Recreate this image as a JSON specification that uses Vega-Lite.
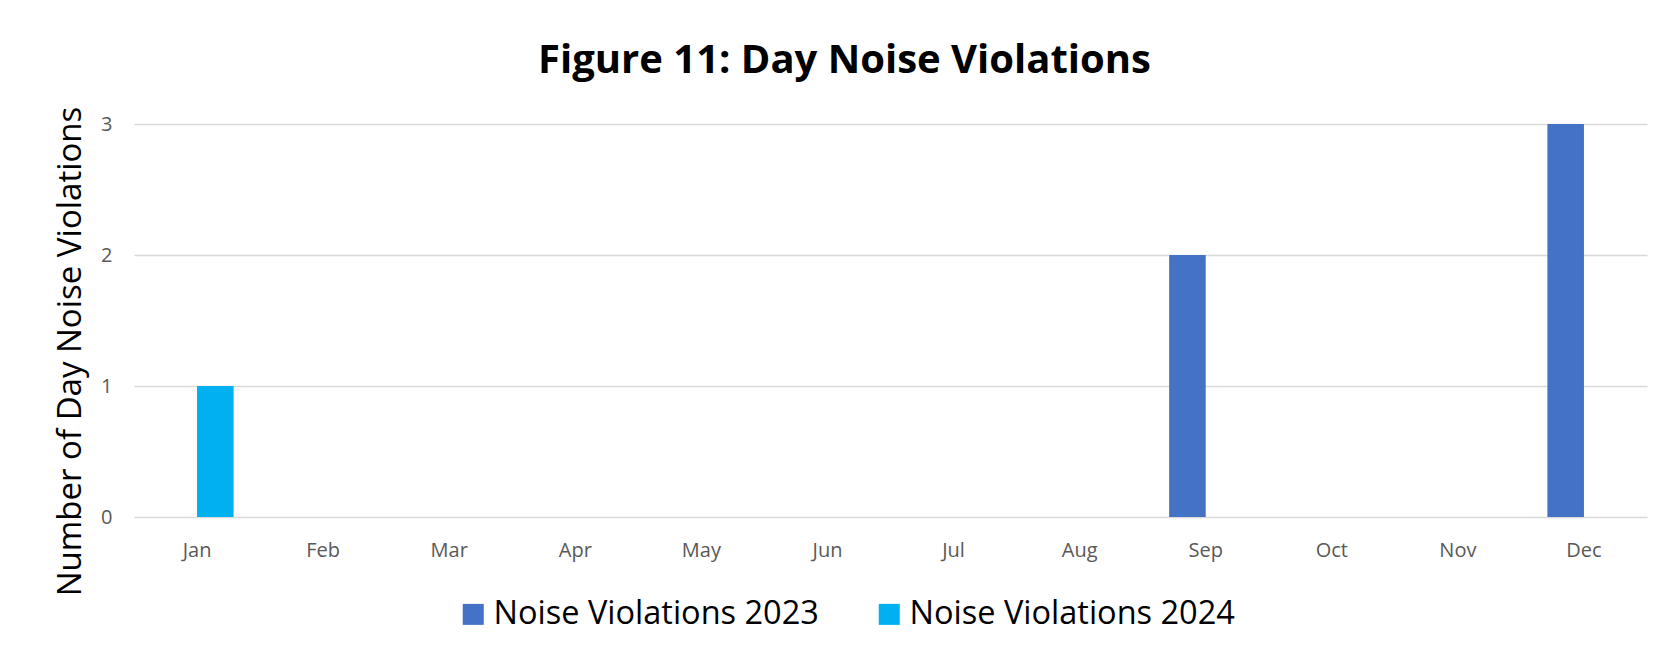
{
  "$schema": "https://vega.github.io/schema/vega-lite/v6.json",
  "width": 1513,
  "height": 393,
  "autosize": "none",
  "padding": {"left": 134, "top": 124, "right": 16, "bottom": 136},
  "background": "white",
  "title": {
    "text": "Figure 11: Day Noise Violations",
    "font": "Open Sans",
    "fontSize": 40,
    "fontWeight": "bold",
    "color": "#000000",
    "anchor": "middle",
    "dx": -46,
    "dy": 53,
    "offset": 46,
    "baseline": "alphabetic"
  },
  "data": {
    "values": [
      {"month": "Jan", "series": "Noise Violations 2023", "count": 0},
      {"month": "Jan", "series": "Noise Violations 2024", "count": 1},
      {"month": "Feb", "series": "Noise Violations 2023", "count": 0},
      {"month": "Feb", "series": "Noise Violations 2024", "count": 0},
      {"month": "Mar", "series": "Noise Violations 2023", "count": 0},
      {"month": "Mar", "series": "Noise Violations 2024", "count": 0},
      {"month": "Apr", "series": "Noise Violations 2023", "count": 0},
      {"month": "Apr", "series": "Noise Violations 2024", "count": 0},
      {"month": "May", "series": "Noise Violations 2023", "count": 0},
      {"month": "May", "series": "Noise Violations 2024", "count": 0},
      {"month": "Jun", "series": "Noise Violations 2023", "count": 0},
      {"month": "Jun", "series": "Noise Violations 2024", "count": 0},
      {"month": "Jul", "series": "Noise Violations 2023", "count": 0},
      {"month": "Jul", "series": "Noise Violations 2024", "count": 0},
      {"month": "Aug", "series": "Noise Violations 2023", "count": 0},
      {"month": "Aug", "series": "Noise Violations 2024", "count": 0},
      {"month": "Sep", "series": "Noise Violations 2023", "count": 2},
      {"month": "Sep", "series": "Noise Violations 2024", "count": 0},
      {"month": "Oct", "series": "Noise Violations 2023", "count": 0},
      {"month": "Oct", "series": "Noise Violations 2024", "count": 0},
      {"month": "Nov", "series": "Noise Violations 2023", "count": 0},
      {"month": "Nov", "series": "Noise Violations 2024", "count": 0},
      {"month": "Dec", "series": "Noise Violations 2023", "count": 3},
      {"month": "Dec", "series": "Noise Violations 2024", "count": 0}
    ]
  },
  "mark": {"type": "bar"},
  "encoding": {
    "x": {
      "field": "month",
      "type": "nominal",
      "sort": ["Jan", "Feb", "Mar", "Apr", "May", "Jun", "Jul", "Aug", "Sep", "Oct", "Nov", "Dec"],
      "scale": {"paddingInner": 0.42, "paddingOuter": 0.21},
      "axis": {
        "title": null,
        "labelAngle": 0,
        "labelFont": "Open Sans",
        "labelFontSize": 20,
        "labelColor": "#595959",
        "labelPadding": 23,
        "ticks": false,
        "tickSize": 0,
        "domain": false,
        "grid": false
      }
    },
    "xOffset": {
      "field": "series",
      "type": "nominal",
      "scale": {"paddingInner": 0, "paddingOuter": 0}
    },
    "y": {
      "field": "count",
      "type": "quantitative",
      "scale": {"domain": [0, 3], "nice": false},
      "axis": {
        "title": "Number of Day Noise Violations",
        "titleFont": "Open Sans",
        "titleFontSize": 33,
        "titleFontWeight": "normal",
        "titleColor": "#000000",
        "titleX": -54,
        "titleY": 227,
        "titleAngle": -90,
        "titleAlign": "center",
        "titleBaseline": "alphabetic",
        "values": [0, 1, 2, 3],
        "format": "d",
        "labelFont": "Open Sans",
        "labelFontSize": 20,
        "labelColor": "#595959",
        "labelPadding": 22,
        "ticks": false,
        "tickSize": 0,
        "domain": false,
        "grid": true,
        "gridColor": "#d9d9d9",
        "gridWidth": 1.5
      }
    },
    "color": {
      "field": "series",
      "type": "nominal",
      "scale": {
        "domain": ["Noise Violations 2023", "Noise Violations 2024"],
        "range": ["#4472C4", "#00B0F0"]
      },
      "legend": {
        "title": null,
        "orient": "none",
        "direction": "horizontal",
        "legendX": 323,
        "legendY": 474,
        "padding": 0,
        "symbolType": "square",
        "symbolSize": 441,
        "symbolStrokeWidth": 0,
        "labelFont": "Open Sans",
        "labelFontSize": 32.5,
        "labelColor": "#000000",
        "labelOffset": 4,
        "columnPadding": 54,
        "labelLimit": 0
      }
    }
  },
  "config": {
    "view": {"stroke": null}
  }
}
